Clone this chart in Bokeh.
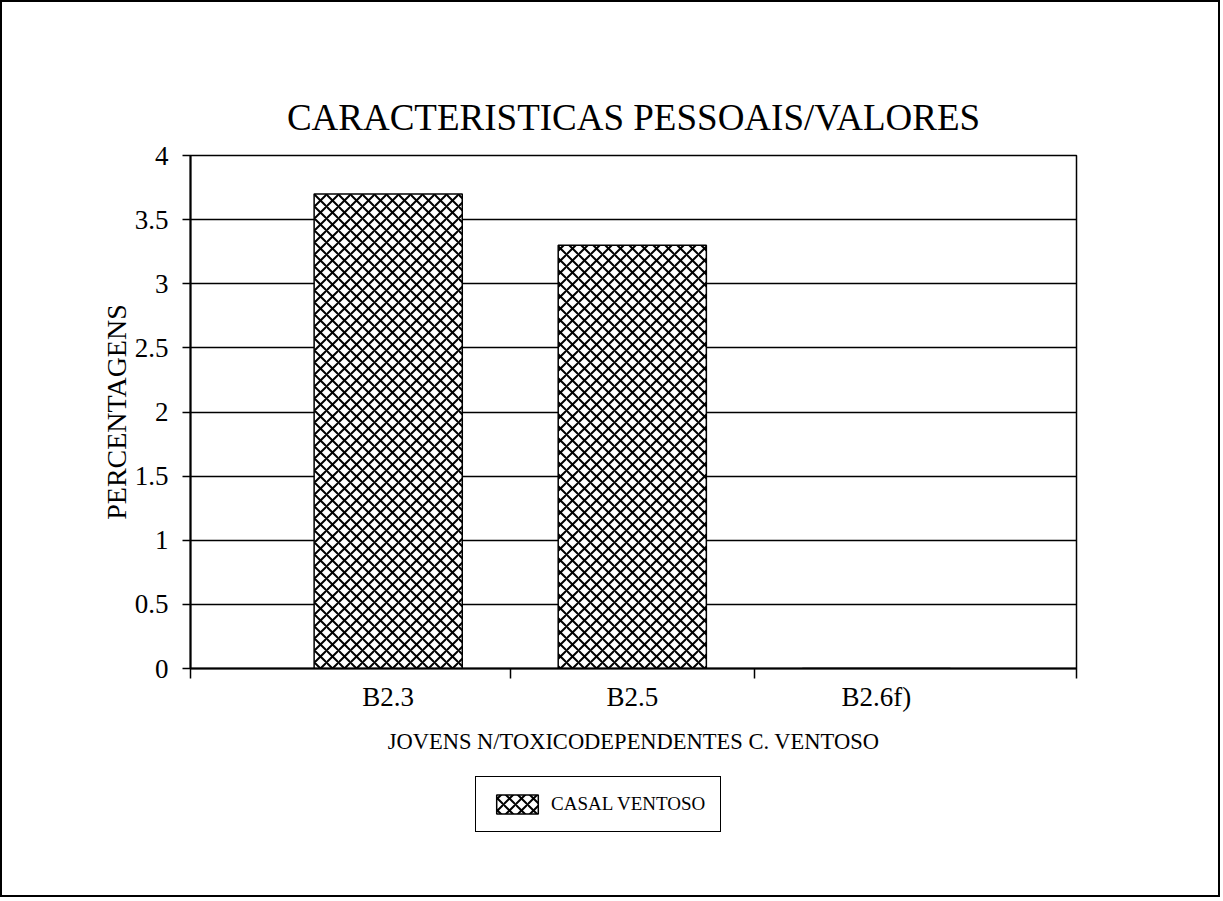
from bokeh.plotting import figure
from bokeh.layouts import column
from bokeh.models import (ColumnDataSource, FixedTicker, Legend, LegendItem, Range1d, LinearAxis)
from bokeh.embed import file_html
from bokeh.resources import INLINE

# ---- data ----
categories = ["B2.3", "B2.5", "B2.6f)"]
values = [3.7, 3.3, 0.0]
series_name = "CASAL VENTOSO"
y_ticks = [0, 0.5, 1, 1.5, 2, 2.5, 3, 3.5, 4]
y_tick_labels = ["0", "0.5", "1", "1.5", "2", "2.5", "3", "3.5", "4"]
title_text = "CARACTERISTICAS PESSOAIS/VALORES"
x_label = "JOVENS N/TOXICODEPENDENTES C. VENTOSO"
y_label = "PERCENTAGENS"

FONT = "Liberation Serif"

# layout constants (not data)
X_START, X_END = 0.19, 3.82
BAR_W = 0.607

xpos = list(range(1, len(categories) + 1))
src = ColumnDataSource(dict(x=xpos, top=values, cat=categories))

bar_style = dict(width=BAR_W, fill_color="white", line_color="black", line_width=1.5,
                 hatch_pattern="x", hatch_color="black", hatch_scale=12, hatch_weight=2.0)

# ---------------- main chart ----------------
p = figure(output_backend="svg", toolbar_location=None,
           x_range=Range1d(X_START, X_END), y_range=Range1d(y_ticks[0], y_ticks[-1]),
           min_border_left=188, min_border_right=142, min_border_top=153,
           min_border_bottom=100, frame_width=886, frame_height=513,
           title=None)
xa = p.below[0]
ya = p.left[0]

p.background_fill_color = "white"
p.border_fill_color = "white"
p.outline_line_color = "black"
p.outline_line_width = 1.5

# title drawn as the label of a bare axis above the frame
tax = LinearAxis(axis_label=title_text, ticker=FixedTicker(ticks=[]))
tax.axis_line_color = None
tax.major_tick_line_color = None
tax.minor_tick_line_color = None
tax.major_tick_out = 0
tax.minor_tick_out = 0
tax.major_label_standoff = 0
tax.major_label_text_font_size = "0px"
tax.axis_label_text_font = FONT
tax.axis_label_text_font_size = "37px"
tax.axis_label_text_font_style = "normal"
tax.axis_label_text_color = "black"
tax.axis_label_standoff = 18
p.add_layout(tax, "above")

p.xgrid.grid_line_color = None
p.ygrid.grid_line_color = "black"
p.ygrid.grid_line_width = 1.5
p.ygrid.ticker = FixedTicker(ticks=y_ticks)

p.vbar(x="x", top="top", source=src, **bar_style)

ya.ticker = FixedTicker(ticks=y_ticks)
ya.major_label_overrides = {t_: l for t_, l in zip(y_ticks, y_tick_labels)}
ya.axis_line_color = "black"
ya.axis_line_width = 2
ya.major_tick_out = 8
ya.major_tick_in = 0
ya.major_tick_line_width = 1.5
ya.minor_tick_line_color = None
ya.major_label_text_font = FONT
ya.major_label_text_font_size = "27px"
ya.major_label_text_color = "black"
ya.major_label_standoff = 14
ya.axis_label = y_label
ya.axis_label_text_font = FONT
ya.axis_label_text_font_size = "28px"
ya.axis_label_text_font_style = "normal"
ya.axis_label_text_color = "black"
ya.axis_label_standoff = 0

xa.ticker = FixedTicker(ticks=xpos, minor_ticks=[X_START, 1.5, 2.5, X_END])
xa.major_label_overrides = {x: c for x, c in zip(xpos, categories)}
xa.axis_line_color = "black"
xa.axis_line_width = 2
xa.major_tick_out = 0
xa.major_tick_in = 0
xa.minor_tick_out = 10
xa.minor_tick_in = 0
xa.minor_tick_line_color = "black"
xa.minor_tick_line_width = 1.5
xa.major_label_text_font = FONT
xa.major_label_text_font_size = "27px"
xa.major_label_text_color = "black"
xa.major_label_standoff = 3
xa.axis_label = x_label
xa.axis_label_text_font = FONT
xa.axis_label_text_font_size = "22.5px"
xa.axis_label_text_font_style = "normal"
xa.axis_label_text_color = "black"
xa.axis_label_standoff = 14

# ---------------- legend strip ----------------
# its own (hidden) copy of the series only feeds the legend swatch
lg = figure(output_backend="svg", toolbar_location=None,
            x_range=Range1d(X_START, X_END), y_range=Range1d(100, 101),
            x_axis_type=None, y_axis_type=None,
            min_border_left=188, min_border_right=142, min_border_top=0,
            min_border_bottom=0, frame_width=886, frame_height=127, title=None)
lg.grid.grid_line_color = None
lg.outline_line_color = None
lg.background_fill_color = "white"
lg.border_fill_color = "white"
r2 = lg.vbar(x="x", top="top", source=src, **bar_style)
r2.visible = False

legend = Legend(items=[LegendItem(label=series_name, renderers=[r2])],
                location=(285, 63), orientation="horizontal", click_policy="none")
legend.label_text_font = FONT
legend.label_text_font_size = "19px"
legend.label_text_color = "black"
legend.glyph_width = 52
legend.glyph_height = 24
legend.border_line_color = "black"
legend.border_line_alpha = 1.0
legend.border_line_width = 1.5
legend.padding = 15
legend.margin = 0
legend.label_standoff = 8
legend.background_fill_color = "white"
lg.add_layout(legend, "center")

page = column(p, lg, spacing=0, styles={"border": "2px solid black"})

open("out.html", "w").write(file_html(page, INLINE))
